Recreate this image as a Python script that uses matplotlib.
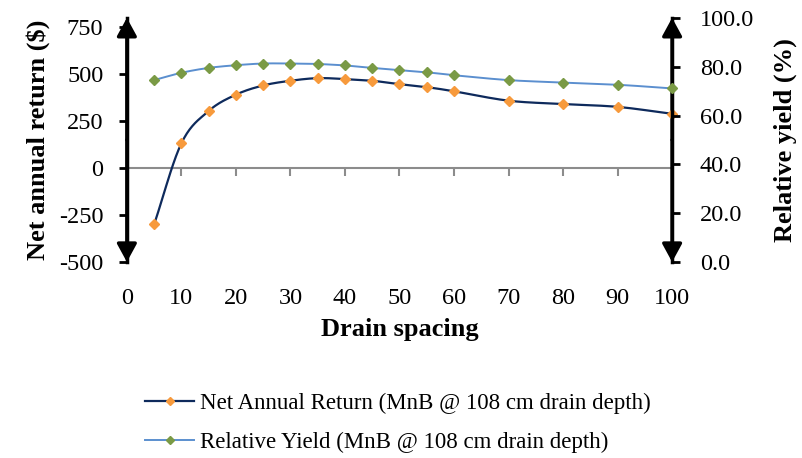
import matplotlib.pyplot as plt
import numpy as np
from matplotlib import markers

# drain spacing (m) and the two series
spacing = [5, 10, 15, 20, 25, 30, 35, 40, 45, 50, 55, 60, 70, 80, 90, 100]
net_return = [-300, 132, 304, 391, 440, 465, 479, 474, 465, 447, 431, 409, 359, 341, 326, 289]
rel_yield = [74.5, 77.5, 79.5, 80.6, 81.3, 81.3, 81.1, 80.5, 79.5, 78.6, 77.7, 76.5, 74.5, 73.5, 72.6, 71.1]

x_ticks = list(range(0, 101, 10))
left_ticks = [-500, -250, 0, 250, 500, 750]
right_ticks = [0, 20, 40, 60, 80, 100]

net_label = 'Net Annual Return (MnB @ 108 cm drain depth)'
yield_label = 'Relative Yield (MnB @ 108 cm drain depth)'

plt.rcParams['font.family'] = ['Liberation Serif', 'DejaVu Serif']
plt.rcParams['axes.unicode_minus'] = False


def smooth(x, y, n=20):
    # Catmull-Rom style smoothing, like Excel's "smoothed line"
    x = np.asarray(x, float)
    y = np.asarray(y, float)
    px = np.concatenate([[2 * x[0] - x[1]], x, [2 * x[-1] - x[-2]]])
    py = np.concatenate([[2 * y[0] - y[1]], y, [2 * y[-1] - y[-2]]])
    xs, ys = [], []
    t = np.linspace(0, 1, n, endpoint=False)
    for i in range(1, len(px) - 2):
        p0, p1, p2, p3 = [np.array([px[j], py[j]]) for j in range(i - 1, i + 3)]
        c1 = p1 + (p2 - p0) / 6
        c2 = p2 - (p3 - p1) / 6
        pts = ((1 - t) ** 3)[:, None] * p1 + (3 * (1 - t) ** 2 * t)[:, None] * c1 \
            + (3 * (1 - t) * t ** 2)[:, None] * c2 + (t ** 3)[:, None] * p2
        xs.extend(pts[:, 0])
        ys.extend(pts[:, 1])
    xs.append(x[-1])
    ys.append(y[-1])
    return xs, ys


fig = plt.figure(figsize=(8.03, 4.58), dpi=100)
ax = fig.add_axes([0.158, 0.428, 0.679, 0.533])
ax2 = ax.twinx()

net_color = '#0E2A5C'
net_marker = '#F79A3C'
yield_color = '#5B8FCF'
yield_marker = '#7A9A45'

ax.set_xlim(0, 100)
ax.set_ylim(-500, 800)
ax2.set_ylim(0, 100)

# zero line with gray ticks
ax.axhline(0, color='#8C8C8C', lw=1.5, zorder=1)
ax.plot(x_ticks[1:], [0] * (len(x_ticks) - 1), ls='none', marker=markers.TICKDOWN,
        ms=6, mew=1.5, color='#8C8C8C', zorder=1)

sx, sy = smooth(spacing, net_return)
ax.plot(sx, sy, color=net_color, lw=1.6, zorder=3)
ax.plot(spacing, net_return, ls='none', marker='D', ms=5, color=net_marker, zorder=4,
        clip_on=False)

sx2, sy2 = smooth(spacing, rel_yield)
ax2.plot(sx2, sy2, color=yield_color, lw=1.4, zorder=3)
ax2.plot(spacing, rel_yield, ls='none', marker='D', ms=5, color=yield_marker, zorder=4,
         clip_on=False)

for a in (ax, ax2):
    a.spines['top'].set_visible(False)
    a.spines['bottom'].set_visible(False)
    a.patch.set_visible(False)
ax.spines['right'].set_visible(False)
ax2.spines['left'].set_visible(False)
ax.spines['left'].set_linewidth(2.5)
ax2.spines['right'].set_linewidth(2.5)

ax.set_xticks(x_ticks)
ax.tick_params(axis='x', length=0, pad=19, labelsize=17.5)
ax.set_yticks(left_ticks)
ax.tick_params(axis='y', direction='out', length=6, width=2, labelsize=17.5, pad=11)
ax2.set_yticks(right_ticks)
ax2.set_yticklabels([f'{v:.1f}' for v in right_ticks])
ax2.tick_params(axis='y', direction='out', length=6, width=2, labelsize=17.5, pad=14)

# arrowheads on both vertical axes
for xa in (0, 1):
    for ya, yb in ((0.5, 1.0), (0.5, 0.0)):
        ax.annotate('', xy=(xa, yb), xytext=(xa, ya), xycoords='axes fraction',
                    arrowprops=dict(arrowstyle='-|>,head_length=0.55,head_width=0.3',
                                    mutation_scale=20, lw=2.5,
                                    color='black', shrinkA=0, shrinkB=0))

ax.set_xlabel('Drain spacing', fontsize=19, fontweight='bold', labelpad=6)
ax.set_ylabel('Net annual return ($)', fontsize=19, fontweight='bold', labelpad=6)
ax2.set_ylabel('Relative yield (%)', fontsize=19, fontweight='bold', labelpad=14)

h1, = ax.plot([], [], color=net_color, lw=1.6, marker='D', ms=4, mfc=net_marker, mec=net_marker)
h2, = ax.plot([], [], color=yield_color, lw=1.4, marker='D', ms=4, mfc=yield_marker, mec=yield_marker)
fig.legend([h1, h2], [net_label, yield_label], loc='center left', bbox_to_anchor=(0.155, 0.077),
           frameon=False, fontsize=16.5, handlelength=2.15, labelspacing=0.8, handletextpad=0.25)

fig.savefig('out.png', dpi=100)
